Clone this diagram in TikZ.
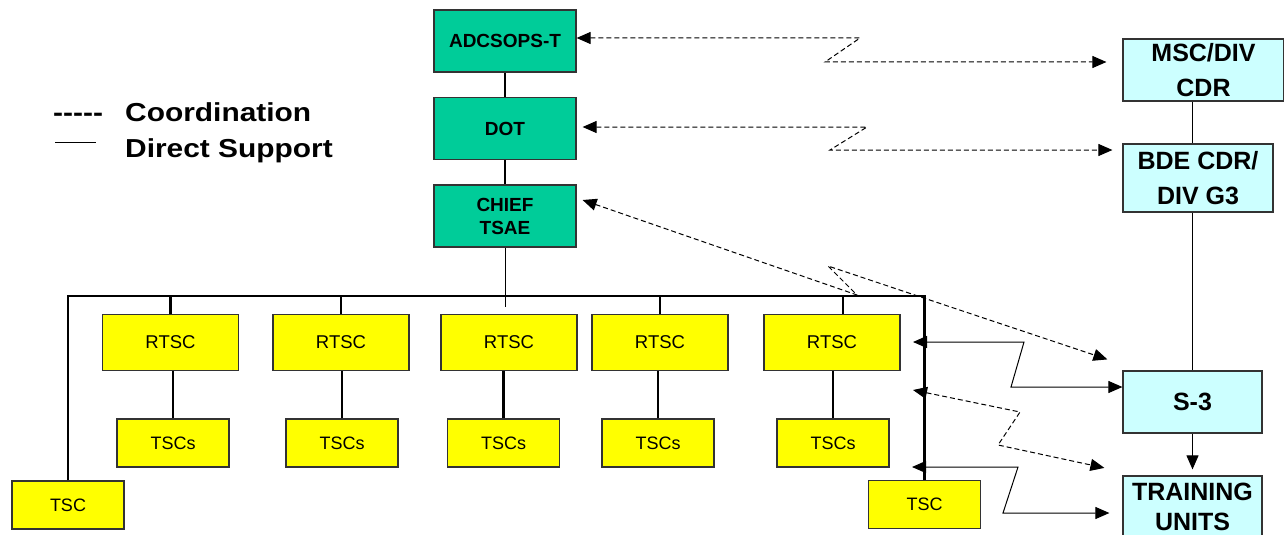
\documentclass[tikz,border=0pt]{standalone}
\usepackage{fontspec}
\setmainfont{Liberation Sans}
\usetikzlibrary{arrows.meta}

\definecolor{cmdgreen}{RGB}{0,204,153}
\definecolor{unitcyan}{RGB}{204,255,255}
\definecolor{siteyellow}{RGB}{255,255,0}

\tikzset{
  bigtri/.tip={Triangle[length=14pt,width=12pt]},
  box/.style={draw=black!80, line width=1.2pt, inner sep=0pt, align=center},
  cmdbox/.style={box, fill=cmdgreen, minimum width=142pt, minimum height=62pt,
    font=\fontsize{19}{23}\selectfont\bfseries},
  unitbox/.style={box, fill=unitcyan, minimum height=62pt,
    font=\fontsize{25}{35}\selectfont\bfseries},
  rtscbox/.style={box, fill=siteyellow, minimum width=136pt, minimum height=56pt,
    font=\fontsize{18.5}{22}\selectfont},
  tscbox/.style={box, fill=siteyellow, minimum width=112pt, minimum height=48pt,
    font=\fontsize{18}{22}\selectfont},
  legendtext/.style={inner sep=0pt, font=\fontsize{26}{30}\selectfont\bfseries},
  link/.style={line width=2.4pt},
  thinlink/.style={line width=1pt},
  coordarrow/.style={line width=1pt, dash pattern=on 5pt off 3pt, bigtri-bigtri},
  supportarrow/.style={line width=1pt, bigtri-bigtri},
}

\begin{document}
\begin{tikzpicture}[x=1pt, y=-1pt]
    \clip (0,0) rectangle (1284,535);

    % legend
    \node[legendtext, anchor=base west] (dashlbl) at (53,121) {\scalebox{1.15}[1]{-{}-{}-{}-{}-}};
    \node[legendtext, anchor=base west] (coordlbl) at (125,121) {\scalebox{1.15}[1]{Coordination}};
    \node[legendtext, anchor=base west] (supportlbl) at (125,157) {\scalebox{1.15}[1]{Direct Support}};
    \coordinate (legA) at (55,142);
    \coordinate (legB) at (96,142);
    \draw[thinlink] (legA) -- (legB);

    % command chain
    \node[cmdbox] (adcs)  at (505,41)    {ADCSOPS-T};
    \node[cmdbox] (dot)   at (505,128.5) {DOT};
    \node[cmdbox] (chief) at (505,216)   {CHIEF\\TSAE};

    % unit chain
    \node[unitbox, minimum width=161pt] (msc)   at (1203.5,70) {MSC/DIV\\CDR};
    \node[unitbox, minimum width=150pt, minimum height=68pt] (bde) at (1198,178) {BDE CDR/\\DIV G3};
    \node[unitbox, minimum width=139pt] (s3)    at (1192.5,402) {S-3};
    \node[unitbox, minimum width=139pt, minimum height=61pt,
          font=\fontsize{25}{30}\selectfont\bfseries] (train) at (1192.5,506.5) {TRAINING\\UNITS};

    % support centers
    \node[rtscbox] (r1) at (170.5,342.5) {RTSC};
    \node[rtscbox] (r2) at (341,342.5)   {RTSC};
    \node[rtscbox] (r3) at (509,342.5)   {RTSC};
    \node[rtscbox] (r4) at (660,342.5)   {RTSC};
    \node[rtscbox] (r5) at (832,342.5)   {RTSC};

    \node[tscbox] (s1) at (173,443)   {TSCs};
    \node[tscbox] (s2) at (342,443)   {TSCs};
    \node[tscbox] (s3b) at (503.5,443) {TSCs};
    \node[tscbox] (s4) at (658,443)   {TSCs};
    \node[tscbox] (s5) at (833,443)   {TSCs};

    \node[tscbox] (tscL) at (68,505)    {TSC};
    \node[tscbox] (tscR) at (924.5,504.5) {TSC};

    % solid links
    \draw[link] (adcs) -- (dot);
    \draw[link] (dot) -- (chief);
    \coordinate (busy) at (0,296);
    \coordinate (chiefend) at (0,307);
    \draw[thinlink] (chief.south) -- (chief.south |- chiefend);
    \draw[link] (tscL.north) -- (tscL.north |- busy) -- (tscR.north |- busy) -- (tscR.north);
    \foreach \r in {r1,r2,r4} {
        \draw[link] (\r.north) -- (\r.north |- busy);
    }
    \draw[link] ([xshift=11pt]r5.north) -- ([xshift=11pt]r5.north |- busy);
    \foreach \r/\s in {r1/s1,r2/s2,r3/s3b,r4/s4,r5/s5} {
        \draw[link] (\s.north) -- (\s.north |- \r.south);
    }
    \draw[thinlink] (msc.south -| s3.north) -- (bde.north -| s3.north);
    \draw[thinlink] (bde.south -| s3.north) -- (s3.north);
    \draw[thinlink, -bigtri] (s3.south) -- ([yshift=6pt]train.north);

    % zigzag bends
    \coordinate (zig1a) at (860,38);   \coordinate (zig1b) at (825,62);
    \coordinate (zig2a) at (867,127);  \coordinate (zig2b) at (830,150);
    \coordinate (zig3a) at (857,295);  \coordinate (zig3b) at (828,266);
    \coordinate (zig4a) at (1024,342); \coordinate (zig4b) at (1011,387);
    \coordinate (zig5a) at (1020,412); \coordinate (zig5b) at (998,445);
    \coordinate (zig6a) at (1018,467); \coordinate (zig6b) at (1003,513);
    \coordinate (tap1) at (913,342);
    \coordinate (tap2) at (913,390);
    \coordinate (tap3) at (912,467);

    % coordination
    \draw[coordarrow] ([yshift=3pt]adcs.east) -- (zig1a) -- (zig1b) -- ([xshift=-16pt,yshift=8pt]msc.west);
    \draw[coordarrow] ([xshift=6pt,yshift=1.5pt]dot.east) -- (zig2a) -- (zig2b) -- ([xshift=-10pt,yshift=28pt]bde.west);
    \draw[coordarrow] ([xshift=6pt,yshift=16pt]chief.east) -- (zig3a) -- (zig3b) -- ([xshift=-15pt,yshift=11pt]s3.north west);
    \draw[coordarrow] (tap2) -- (zig5a) -- (zig5b) -- ([xshift=-18pt,yshift=7.5pt]train.north west);

    % direct support
    \draw[supportarrow] (tap1) -- (zig4a) -- (zig4b) -- ([yshift=15pt]s3.west);
    \draw[supportarrow] (tap3) -- (zig6a) -- (zig6b) -- ([xshift=-13pt,yshift=-6.5pt]train.west);
\end{tikzpicture}
\end{document}
